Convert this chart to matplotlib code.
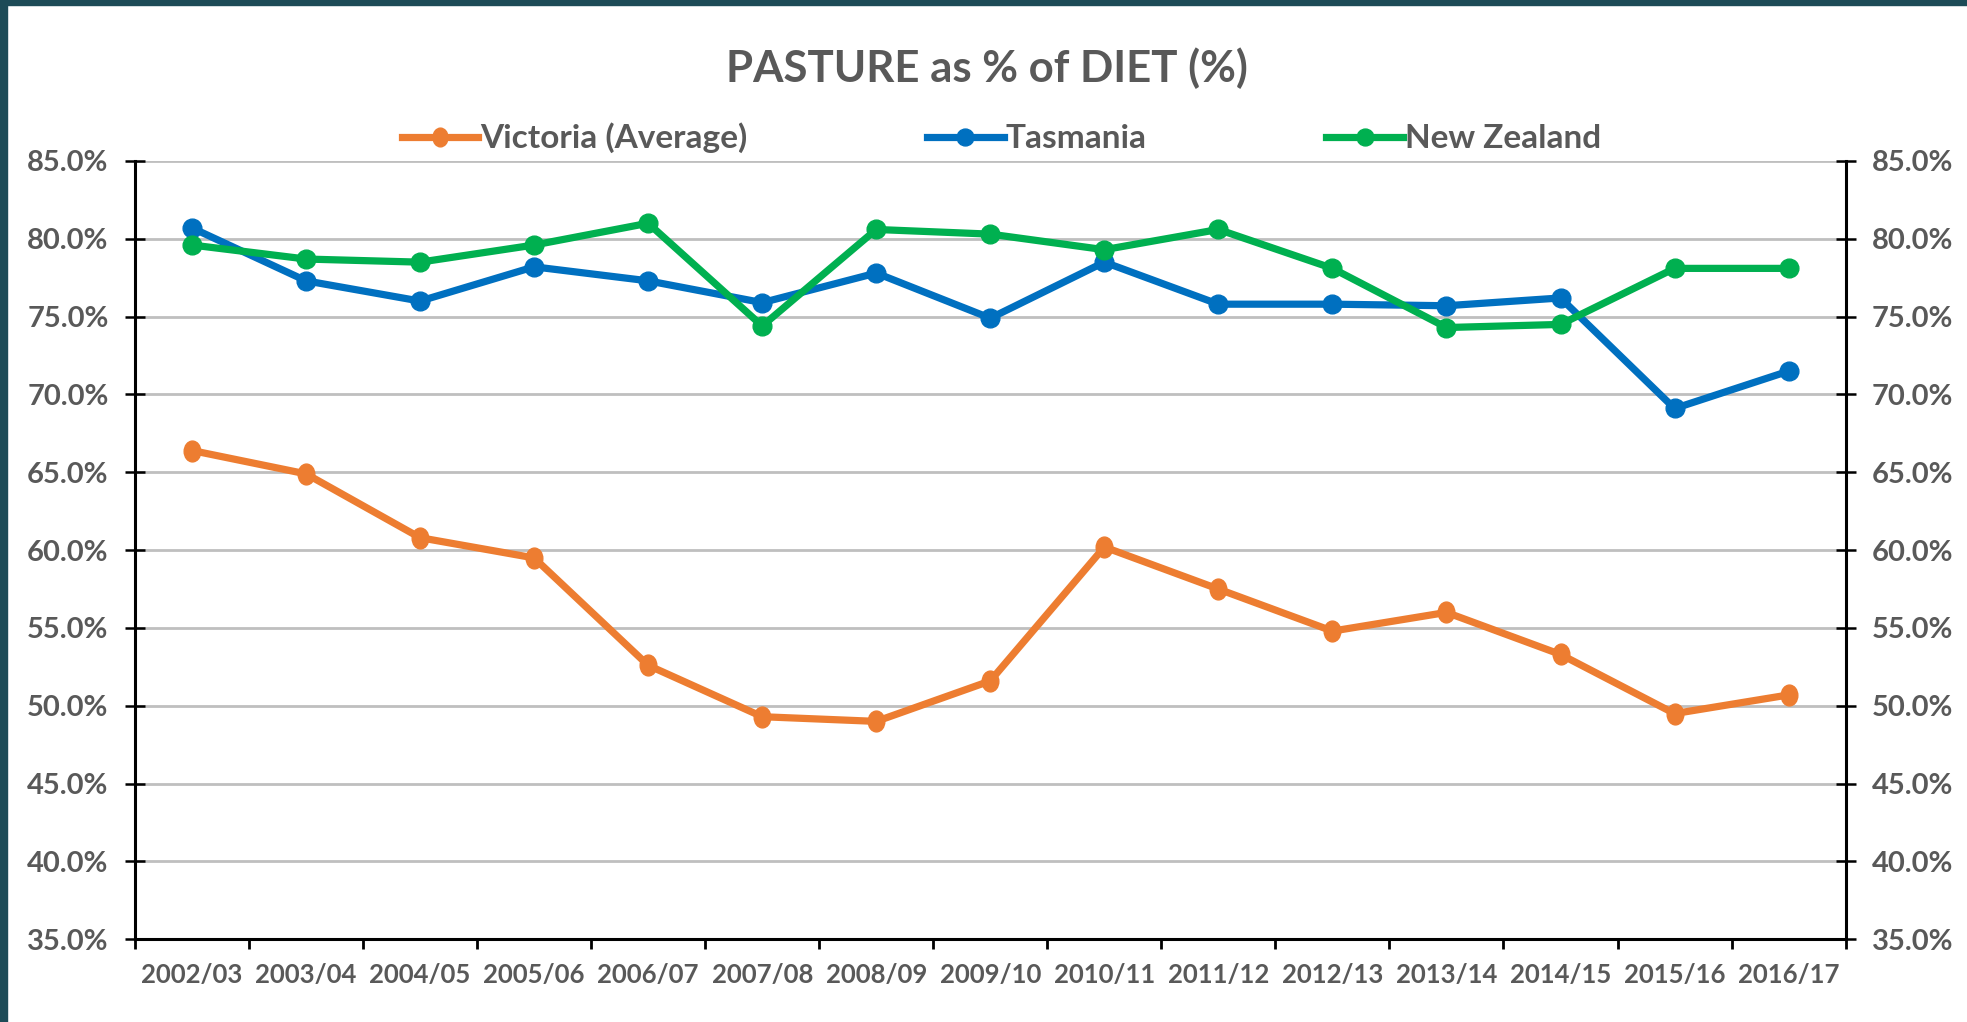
import numpy as np
import matplotlib
matplotlib.use('Agg')
import matplotlib.pyplot as plt
from matplotlib.path import Path
from matplotlib.patches import Rectangle

seasons = ["2002/03", "2003/04", "2004/05", "2005/06", "2006/07", "2007/08", "2008/09",
           "2009/10", "2010/11", "2011/12", "2012/13", "2013/14", "2014/15", "2015/16", "2016/17"]
victoria = [66.4, 64.9, 60.8, 59.5, 52.6, 49.3, 49.0, 51.6, 60.2, 57.5, 54.8, 56.0, 53.3, 49.5, 50.7]
tasmania = [80.7, 77.3, 76.0, 78.2, 77.3, 75.9, 77.8, 74.9, 78.5, 75.8, 75.8, 75.7, 76.2, 69.1, 71.5]
new_zealand = [79.6, 78.7, 78.5, 79.6, 81.0, 74.4, 80.6, 80.3, 79.3, 80.6, 78.1, 74.3, 74.5, 78.1, 78.1]

grey = '#595959'
plt.rcParams['font.family'] = ['Lato', 'DejaVu Sans']

# Victoria markers are drawn a bit squashed in the original
circ = Path.unit_circle()
ellipse = Path(circ.vertices * [0.8, 1.0], circ.codes)

fig = plt.figure(figsize=(19.67, 10.22), dpi=100)
ax = fig.add_axes([0.0686, 0.0809, 0.8697, 0.7616])

x = np.arange(len(seasons))
ax.plot(x, victoria, color='#ED7D31', lw=5.2, marker=ellipse, ms=15, label='Victoria (Average)', zorder=3)
ax.plot(x, tasmania, color='#0070C0', lw=5.2, marker='o', ms=13.5, label='Tasmania', zorder=3)
ax.plot(x, new_zealand, color='#00B050', lw=5.2, marker='o', ms=13.5, label='New Zealand', zorder=4)

ax.set_xlim(-0.5, len(seasons) - 0.5)
ax.set_ylim(35, 85)
yt = np.arange(35, 86, 5)
ax.set_yticks(yt)
ax.set_yticklabels([f"{v:.1f}%" for v in yt])
ax.set_xticks(x)
ax.set_xticklabels(seasons)
ax.set_xticks(np.arange(-0.5, len(seasons)), minor=True)
ax.tick_params(axis='x', which='major', length=0, pad=17, labelsize=18.5, labelcolor=grey)
ax.tick_params(axis='x', which='minor', length=7, width=2, direction='out', color='black')
ax.tick_params(axis='y', direction='inout', length=14, width=1.8, pad=12, labelsize=21, labelcolor=grey)
for t in ax.get_xticklabels() + ax.get_yticklabels():
    t.set_fontweight('bold')

ax.grid(axis='y', color='#BFBFBF', lw=2)
ax.set_axisbelow(True)
ax.spines['top'].set_visible(False)
for s in ['left', 'right', 'bottom']:
    ax.spines[s].set_linewidth(2.2)
    ax.spines[s].set_color('black')

ax2 = ax.twinx()
ax2.set_ylim(35, 85)
ax2.set_yticks(yt)
ax2.set_yticklabels([f"{v:.1f}%" for v in yt])
ax2.tick_params(axis='y', direction='inout', length=14, width=1.8, pad=12, labelsize=21, labelcolor=grey)
for t in ax2.get_yticklabels():
    t.set_fontweight('bold')
for s in ax2.spines.values():
    s.set_visible(False)

fig.text(0.502, 0.933, 'PASTURE as % of DIET (%)', ha='center', va='center',
         fontsize=31.5, fontweight='bold', color=grey)
fig.legend(loc='center', bbox_to_anchor=(0.509, 0.865), ncol=3, frameon=False,
           handlelength=2.3, handletextpad=0.05, columnspacing=5.4,
           markerscale=0.9, labelcolor=grey, prop={'weight': 'bold', 'size': 24})

# dark frame strips on the left and top edge
fig.patches.append(Rectangle((0, 0), 0.0036, 1, transform=fig.transFigure, color='#1D4B57', zorder=10))
fig.patches.append(Rectangle((0, 0.995), 1, 0.005, transform=fig.transFigure, color='#1D4B57', zorder=10))

fig.savefig('out.png', dpi=100, facecolor='white')
